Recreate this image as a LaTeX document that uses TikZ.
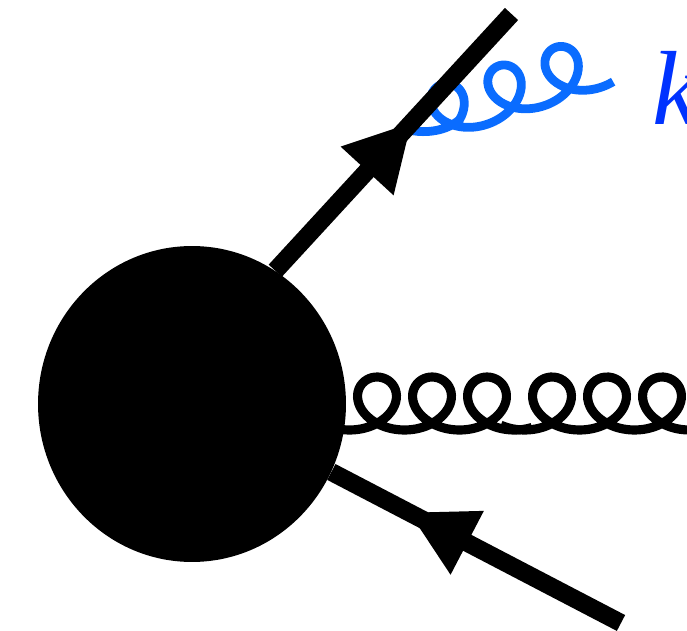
\documentclass[tikz,border=0pt]{standalone}
\usepackage{fontspec}
\usepackage{xcolor}
\usepackage{tikz}
\usetikzlibrary{arrows.meta,decorations.markings,shapes.geometric}
\newfontfamily\kayfont{Liberation Serif}
\definecolor{gluonblue}{HTML}{0A6CFF}
\definecolor{labelblue}{HTML}{0033FF}
\tikzset{
  blobnode/.style={ellipse,fill=black,inner sep=0pt,minimum width=6.16cm,minimum height=6.32cm},
  quarkline/.style={line width=10.2pt,postaction={decorate},
    decoration={markings,mark=at position #1 with {\arrow[line width=0pt]{Triangle[length=37pt,width=41pt]}}}},
  gluonline/.style={line width=5.2pt,smooth,variable=\t,samples=160},
  softline/.style={draw=gluonblue,line width=5pt,smooth,variable=\t,samples=160},
  kaylabel/.style={text=labelblue,anchor=base west,inner sep=0pt,font=\fontsize{60}{60}\selectfont\kayfont\itshape}
}
\begin{document}
\begin{tikzpicture}[x=0.02cm,y=-0.02cm]
  \useasboundingbox (0,0) rectangle (687,631);
  \node[blobnode] (blob) at (192,404) {};
  \coordinate (quarkend) at (511.5,14);
  \coordinate (antiend) at (621,623);
  % soft gluon goes under the outgoing line
  \begin{scope}[shift={(450,109)},rotate=18]
    \draw[softline] plot[domain=-18:1100] ({(\t-180)/6+30*sin(\t)},{26*cos(\t)-12*max(0,(60-\t)/60)});
  \end{scope}
  \draw[quarkline=0.575] (blob.58) -- (quarkend);
  \draw[quarkline=0.73] (antiend) -- (blob.-26.4);
  % hard gluon, two pieces
  \draw[gluonline] plot[domain=-20:1105] ({377+(\t-180)*0.1528+32*sin(\t)},{403.5+26.5*cos(\t)});
  \draw[gluonline] plot[domain=-35:1300] ({552+(\t-180)*0.1528+32*sin(\t)},{403.5+26.5*cos(\t)});
  \node[kaylabel] (softlabel) at (652,125) {k};
\end{tikzpicture}
\end{document}
